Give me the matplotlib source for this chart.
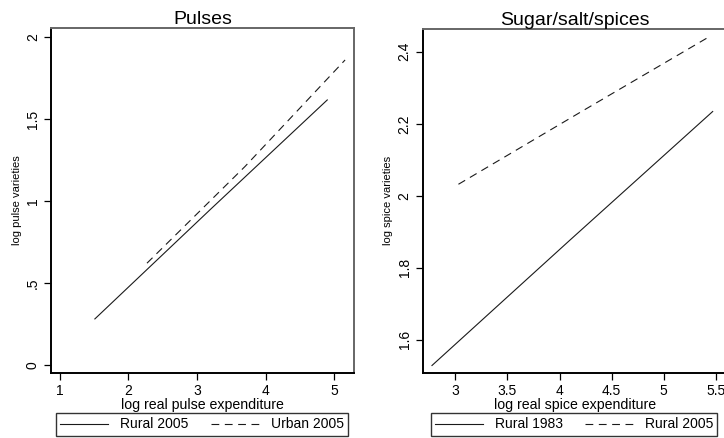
import matplotlib
matplotlib.use("Agg")
import matplotlib.pyplot as plt

# ---- data ----
pulse_rural05_x = [1.51, 3.2, 4.90]
pulse_rural05_y = [0.28, 0.95, 1.616]
pulse_urban05_x = [2.27, 3.7, 5.16]
pulse_urban05_y = [0.62, 1.21, 1.86]

spice_rural83_x = [2.776, 4.1, 5.47]
spice_rural83_y = [1.529, 1.877, 2.234]
spice_rural05_x = [3.03, 4.2, 5.41]
spice_rural05_y = [2.032, 2.232, 2.437]

pulse_xticks = [1, 2, 3, 4, 5]
pulse_yticks = [0, 0.5, 1, 1.5, 2]
pulse_yticklabels = ["0", ".5", "1", "1.5", "2"]
spice_xticks = [3, 3.5, 4, 4.5, 5, 5.5]
spice_xticklabels = ["3", "3.5", "4", "4.5", "5", "5.5"]
spice_yticks = [1.6, 1.8, 2.0, 2.2, 2.4]
spice_yticklabels = ["1.6", "1.8", "2", "2.2", "2.4"]

plt.rcParams['font.family'] = ['Liberation Sans', 'DejaVu Sans']

W, H = 724, 438
fig = plt.figure(figsize=(W / 100, H / 100), dpi=100)

def px_axes(x0, x1, ytop, ybot):
    return fig.add_axes([x0 / W, 1 - ybot / H, (x1 - x0) / W, (ybot - ytop) / H])

line_col = "#1a1a1a"

def style(ax):
    for s in ["left", "bottom"]:
        ax.spines[s].set_color("black")
        ax.spines[s].set_linewidth(1.4)
    for s in ["top", "right"]:
        ax.spines[s].set_color("#666666")
        ax.spines[s].set_linewidth(1.4)
    ax.tick_params(axis="both", length=5, width=0.9, color="black", labelsize=10, pad=3)
    ax.tick_params(axis="y", labelrotation=90)
    for lab in ax.get_yticklabels():
        lab.set_va("center")

leg_kw = dict(loc="center", ncol=2, fontsize=10,
              frameon=True, fancybox=False, edgecolor="black",
              handlelength=3.45, handletextpad=0.85, borderpad=0.3,
              columnspacing=1.6, borderaxespad=0)

# ---- left panel ----
ax1 = px_axes(51, 354, 28, 373)
ax1.plot(pulse_rural05_x, pulse_rural05_y, color=line_col, lw=0.8, label="Rural 2005")
ax1.plot(pulse_urban05_x, pulse_urban05_y, color=line_col, lw=0.8, dashes=(7, 5), label="Urban 2005")
ax1.set_xlim(0.87, 5.29)
ax1.set_ylim(-0.05, 2.055)
ax1.set_xticks(pulse_xticks)
ax1.set_yticks(pulse_yticks)
ax1.set_yticklabels(pulse_yticklabels)
style(ax1)
ax1.set_title("Pulses", fontsize=14, pad=3)
ax1.set_xlabel("log real pulse expenditure", fontsize=10.2, labelpad=0)
ax1.set_ylabel("log pulse varieties", fontsize=8, labelpad=3)
h1, l1 = ax1.get_legend_handles_labels()
fig.legend(h1, l1, bbox_to_anchor=(202 / W, 1 - 424.5 / H), **leg_kw)

# ---- right panel ----
ax2 = px_axes(422.7, 728, 29, 372.7)
ax2.plot(spice_rural83_x, spice_rural83_y, color=line_col, lw=0.8, label="Rural 1983")
ax2.plot(spice_rural05_x, spice_rural05_y, color=line_col, lw=0.8, dashes=(7, 5), label="Rural 2005")
ax2.set_xlim(2.687, 5.617)
ax2.set_ylim(1.509, 2.463)
ax2.set_xticks(spice_xticks)
ax2.set_xticklabels(spice_xticklabels)
ax2.set_yticks(spice_yticks)
ax2.set_yticklabels(spice_yticklabels)
style(ax2)
ax2.set_title("Sugar/salt/spices", fontsize=14, pad=3)
ax2.set_xlabel("log real spice expenditure", fontsize=10.2, labelpad=0)
ax2.set_ylabel("log spice varieties", fontsize=8, labelpad=3)
h2, l2 = ax2.get_legend_handles_labels()
fig.legend(h2, l2, bbox_to_anchor=(574 / W, 1 - 424.5 / H), **leg_kw)

fig.savefig("out.png", dpi=100)
